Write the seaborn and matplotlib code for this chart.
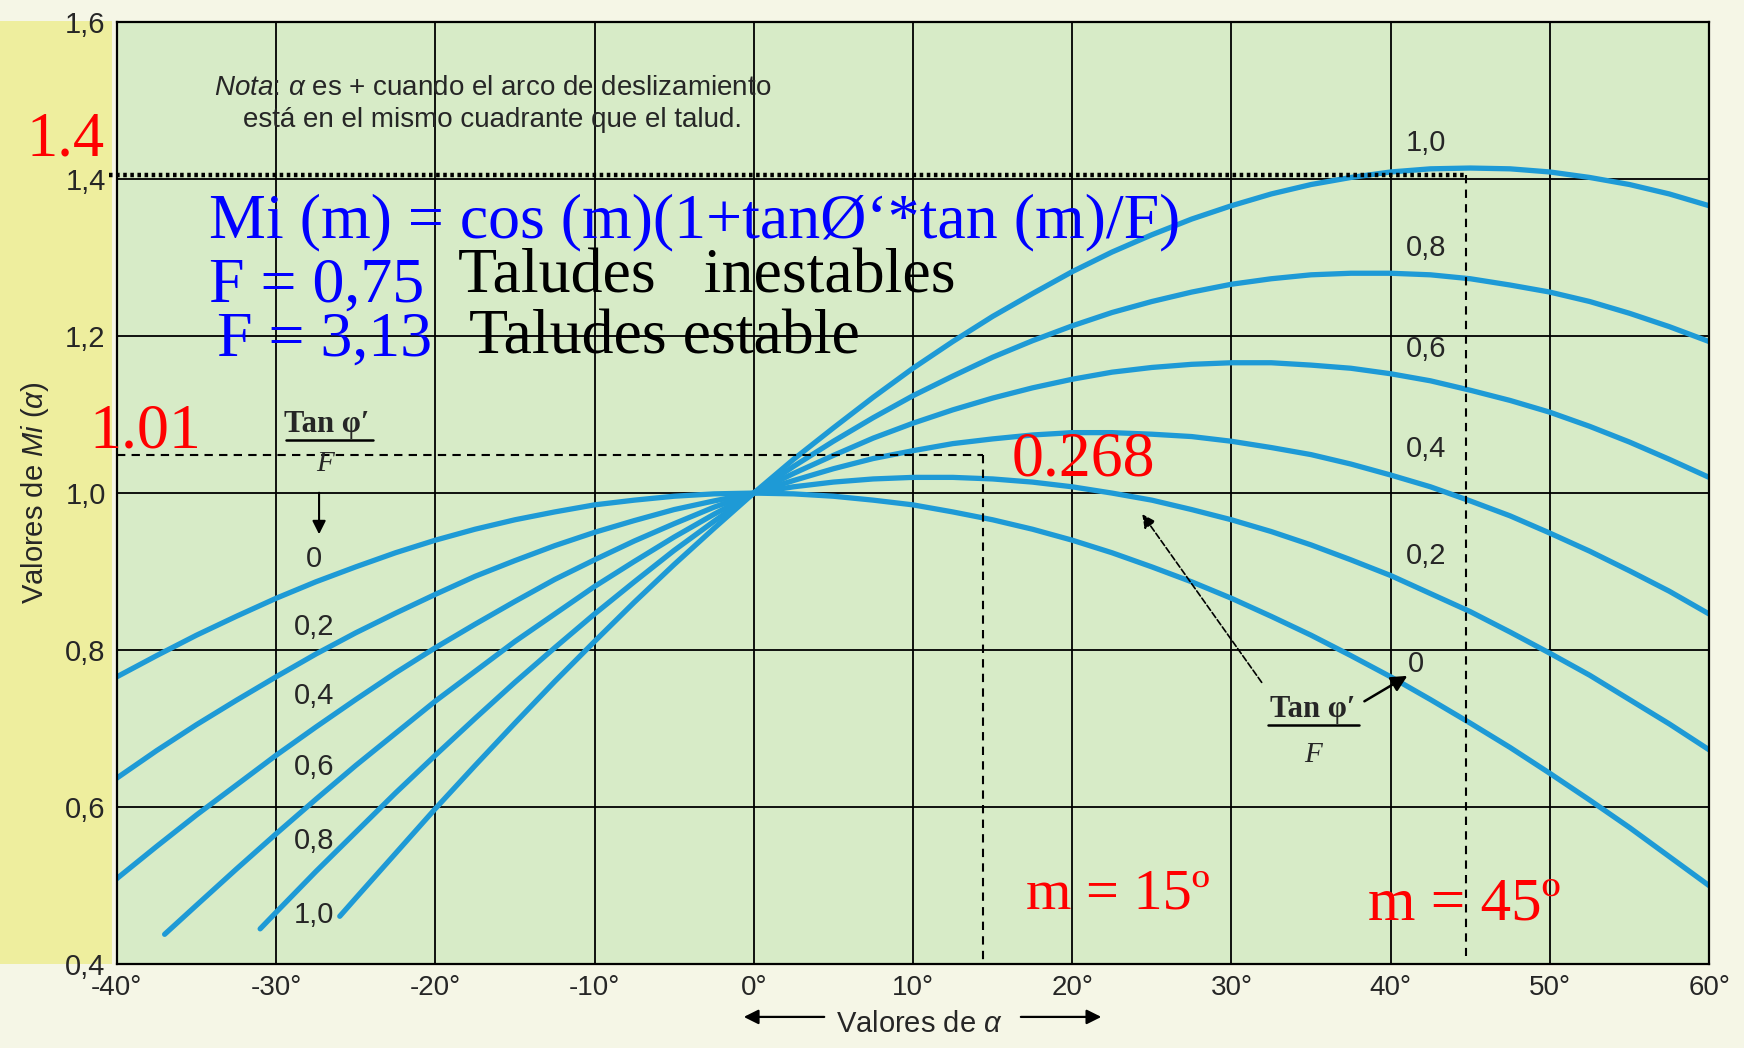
import pandas as pd
import matplotlib
matplotlib.use("Agg")
import matplotlib.pyplot as plt
import seaborn as sns
from matplotlib.patches import Rectangle

# valores (alfa en grados, Mi(alfa)), cada 2.5 grados
alfa_paso = [-40, -37.5, -35, -32.5, -30, -27.5, -25, -22.5, -20, -17.5, -15, -12.5, -10, -7.5, -5,
             -2.5, 0, 2.5, 5, 7.5, 10, 12.5, 15, 17.5, 20, 22.5, 25, 27.5, 30, 32.5, 35, 37.5, 40,
             42.5, 45, 47.5, 50, 52.5, 55, 57.5, 60]
mi_00 = [0.766, 0.793, 0.819, 0.843, 0.866, 0.887, 0.906, 0.924, 0.940, 0.954, 0.966, 0.976, 0.985,
         0.991, 0.996, 0.999, 1.0, 0.999, 0.996, 0.991, 0.985, 0.976, 0.966, 0.954, 0.940, 0.924,
         0.906, 0.887, 0.866, 0.843, 0.819, 0.793, 0.766, 0.737, 0.707, 0.676, 0.643, 0.609,
         0.574, 0.537, 0.500]
mi_02 = [0.637, 0.672, 0.705, 0.736, 0.766, 0.795, 0.822, 0.847, 0.871, 0.894, 0.914, 0.933, 0.950,
         0.965, 0.979, 0.990, 1.0, 1.008, 1.014, 1.018, 1.020, 1.020, 1.018, 1.014, 1.008, 1.000,
         0.991, 0.979, 0.966, 0.951, 0.934, 0.915, 0.895, 0.872, 0.849, 0.823, 0.796, 0.768,
         0.737, 0.706, 0.673]
mi_04 = [0.509, 0.550, 0.590, 0.628, 0.666, 0.702, 0.737, 0.771, 0.803, 0.833, 0.862, 0.890, 0.915,
         0.939, 0.961, 0.982, 1.0, 1.016, 1.031, 1.044, 1.054, 1.063, 1.069, 1.074, 1.077, 1.077,
         1.075, 1.072, 1.066, 1.058, 1.049, 1.037, 1.023, 1.008, 0.990, 0.971, 0.949, 0.926,
         0.901, 0.875, 0.846]
alfa_06 = [-37, -35, -32.5, -30, -27.5, -25, -22.5, -20, -17.5, -15, -12.5, -10, -7.5, -5, -2.5, 0,
           2.5, 5, 7.5, 10, 12.5, 15, 17.5, 20, 22.5, 25, 27.5, 30, 32.5, 35, 37.5, 40, 42.5, 45,
           47.5, 50, 52.5, 55, 57.5, 60]
mi_06 = [0.438, 0.475, 0.521, 0.566, 0.610, 0.653, 0.694, 0.735, 0.773, 0.811, 0.846, 0.881, 0.913,
         0.944, 0.973, 1.0, 1.025, 1.048, 1.070, 1.089, 1.106, 1.121, 1.134, 1.145, 1.154, 1.160,
         1.164, 1.166, 1.166, 1.163, 1.159, 1.152, 1.143, 1.131, 1.118, 1.103, 1.085, 1.065,
         1.043, 1.020]
alfa_08 = [-31, -30, -27.5, -25, -22.5, -20, -17.5, -15, -12.5, -10, -7.5, -5, -2.5, 0, 2.5, 5, 7.5,
           10, 12.5, 15, 17.5, 20, 22.5, 25, 27.5, 30, 32.5, 35, 37.5, 40, 42.5, 45, 47.5, 50, 52.5,
           55, 57.5, 60]
mi_08 = [0.445, 0.466, 0.518, 0.568, 0.618, 0.666, 0.713, 0.759, 0.803, 0.846, 0.887, 0.927, 0.964,
         1.0, 1.034, 1.066, 1.096, 1.124, 1.149, 1.173, 1.194, 1.213, 1.230, 1.244, 1.256, 1.266,
         1.273, 1.278, 1.280, 1.280, 1.278, 1.273, 1.265, 1.256, 1.244, 1.229, 1.212, 1.193]
alfa_10 = [-26, -25, -22.5, -20, -17.5, -15, -12.5, -10, -7.5, -5, -2.5, 0, 2.5, 5, 7.5, 10, 12.5,
           15, 17.5, 20, 22.5, 25, 27.5, 30, 32.5, 35, 37.5, 40, 42.5, 45, 47.5, 50, 52.5, 55,
           57.5, 60]
mi_10 = [0.461, 0.484, 0.541, 0.598, 0.653, 0.707, 0.760, 0.811, 0.861, 0.909, 0.955, 1.0, 1.043,
         1.083, 1.122, 1.159, 1.193, 1.225, 1.254, 1.282, 1.307, 1.329, 1.349, 1.366, 1.381, 1.393,
         1.402, 1.409, 1.413, 1.414, 1.413, 1.409, 1.402, 1.393, 1.381, 1.366]

serie = ["0", "0,2", "0,4", "0,6", "0,8", "1,0"]
x_ticks = [-40, -30, -20, -10, 0, 10, 20, 30, 40, 50, 60]
x_labels = ["-40°", "-30°", "-20°", "-10°", "0°", "10°", "20°", "30°", "40°", "50°", "60°"]
y_ticks = [0.4, 0.6, 0.8, 1.0, 1.2, 1.4, 1.6]
y_labels = ["0,4", "0,6", "0,8", "1,0", "1,2", "1,4", "1,6"]

frames = []
for nombre, a, m in zip(serie, [alfa_paso, alfa_paso, alfa_paso, alfa_06, alfa_08, alfa_10],
                        [mi_00, mi_02, mi_04, mi_06, mi_08, mi_10]):
    frames.append(pd.DataFrame({"alfa": a, "mi": m, "k": nombre}))
df = pd.concat(frames, ignore_index=True)

sns.set_style("white", {"axes.facecolor": "#d7ebc7", "axes.edgecolor": "black"})
plt.rcParams["font.family"] = ["Liberation Sans", "DejaVu Sans"]
plt.rcParams["mathtext.fontset"] = "custom"
plt.rcParams["mathtext.rm"] = "Liberation Sans"
plt.rcParams["mathtext.it"] = "Liberation Sans:italic"

azul = "#1e9ad6"
serif = ["Liberation Serif", "DejaVu Serif"]

fig = plt.figure(figsize=(17.44, 10.48), dpi=100, facecolor="#f5f6e6")
fig.patches.append(Rectangle((0, 0.08), 0.064, 0.9, transform=fig.transFigure,
                             facecolor="#eeee9e", edgecolor="none", zorder=-1))
ax = fig.add_axes([0.067, 0.080, 0.913, 0.899])

sns.lineplot(data=df, x="alfa", y="mi", hue="k", palette=[azul] * 6, legend=False,
             estimator=None, sort=False, linewidth=3.8, ax=ax)

ax.set_xlim(-40, 60)
ax.set_ylim(0.4, 1.6)
ax.set_xticks(x_ticks)
ax.set_xticklabels(x_labels, fontsize=20)
ax.set_yticks(y_ticks)
ax.set_yticklabels(y_labels, fontsize=21)
ax.tick_params(length=0, pad=8)
ax.grid(True, color="black", linewidth=1.3)
ax.set_axisbelow(True)
for s in ax.spines.values():
    s.set_linewidth(1.6)
ax.set_xlabel("")
ax.set_ylabel(r"Valores de $\mathit{Mi}$ ($\mathit{\alpha}$)", fontsize=21, labelpad=10)

# etiqueta eje x con flechas
fig.text(0.527, 0.010, r"Valores de $\mathit{\alpha}$", fontsize=21, ha="center", va="bottom")
ax.annotate("", xy=(-0.8, -0.056), xytext=(4.6, -0.056), xycoords=("data", "axes fraction"),
            arrowprops=dict(arrowstyle="-|>", color="black", lw=1.6, mutation_scale=22),
            annotation_clip=False)
ax.annotate("", xy=(22.0, -0.056), xytext=(16.6, -0.056), xycoords=("data", "axes fraction"),
            arrowprops=dict(arrowstyle="-|>", color="black", lw=1.6, mutation_scale=22),
            annotation_clip=False)

# nota
ax.text(-16.4, 1.507, r"$\mathit{Nota}$: $\mathit{\alpha}$ es + cuando el arco de deslizamiento",
        fontsize=20, ha="center", va="baseline")
ax.text(-16.4, 1.466, "está en el mismo cuadrante que el talud.", fontsize=20,
        ha="center", va="baseline")

# etiquetas de curvas
der_y = [0.782, 0.920, 1.056, 1.184, 1.312, 1.446]
izq_y = [0.916, 0.830, 0.742, 0.651, 0.557, 0.463]
for i, nombre in enumerate(serie):
    ax.text(42.2 if i else 41.6, der_y[i], nombre, fontsize=21, ha="center", va="center")
    ax.text(-27.6, izq_y[i], nombre, fontsize=21, ha="center", va="center")

# Tan phi'/F izquierda
ax.text(-26.8, 1.087, "Tan φ′", fontsize=22, family=serif, weight="bold", ha="center",
        va="center")
ax.plot([-29.4, -23.9], [1.068, 1.068], color="black", lw=1.8)
ax.text(-26.9, 1.037, "F", fontsize=21, family=serif, style="italic", ha="center", va="center")
ax.annotate("", xy=(-27.3, 0.944), xytext=(-27.3, 1.004),
            arrowprops=dict(arrowstyle="-|>", color="black", lw=1.5, mutation_scale=20))

# Tan phi'/F derecha
ax.text(35.1, 0.724, "Tan φ′", fontsize=22, family=serif, weight="bold", ha="center",
        va="center")
ax.plot([32.3, 38.0], [0.705, 0.705], color="black", lw=1.8)
ax.text(35.1, 0.667, "F", fontsize=21, family=serif, style="italic", ha="center", va="center")
ax.annotate("", xy=(41.2, 0.769), xytext=(38.2, 0.733),
            arrowprops=dict(arrowstyle="-|>", color="black", lw=1.8, mutation_scale=24))
ax.annotate("", xy=(24.3, 0.976), xytext=(32.0, 0.756),
            arrowprops=dict(arrowstyle="-|>", color="black", lw=1.2, linestyle="--",
                            mutation_scale=20))

# lineas guia
ax.plot([-40.5, 44.7], [1.405, 1.405], color="black", lw=3.2, linestyle=(0, (0.8, 0.8)),
        clip_on=False)
ax.plot([44.7, 44.7], [1.405, 0.41], color="black", lw=1.5, linestyle=(0, (4, 3)))
ax.plot([-40, 14.4], [1.048, 1.048], color="black", lw=1.5, linestyle=(0, (4, 3)))
ax.plot([14.4, 14.4], [1.048, 0.40], color="black", lw=1.5, linestyle=(0, (4, 3)))

# textos superpuestos
ax.text(-45.7, 1.43, "1.4", fontsize=45, family=serif, color="red", va="baseline", clip_on=False)
ax.text(-41.7, 1.058, "1.01", fontsize=46, family=serif, color="red", va="baseline",
        clip_on=False)
ax.text(16.2, 1.023, "0.268", fontsize=46, family=serif, color="red", va="baseline")
ax.text(17.1, 0.471, "m = 15º", fontsize=42, family=serif, color="red", va="baseline")
ax.text(38.6, 0.457, "m = 45º", fontsize=44, family=serif, color="red", va="baseline")
ax.text(-34.2, 1.326, "Mi (m) = cos (m)(1+tanØ‘*tan (m)/F)", fontsize=46, family=serif,
        color="blue", va="baseline")
ax.text(-34.2, 1.244, "F = 0,75", fontsize=46, family=serif, color="blue", va="baseline")
ax.text(-18.6, 1.255, "Taludes   inestables", fontsize=46, family=serif, color="black",
        va="baseline")
ax.text(-33.7, 1.175, "F = 3,13", fontsize=46, family=serif, color="blue", va="baseline")
ax.text(-17.9, 1.178, "Taludes estable", fontsize=46, family=serif, color="black",
        va="baseline")

fig.savefig("out.png", dpi=100, facecolor=fig.get_facecolor())
